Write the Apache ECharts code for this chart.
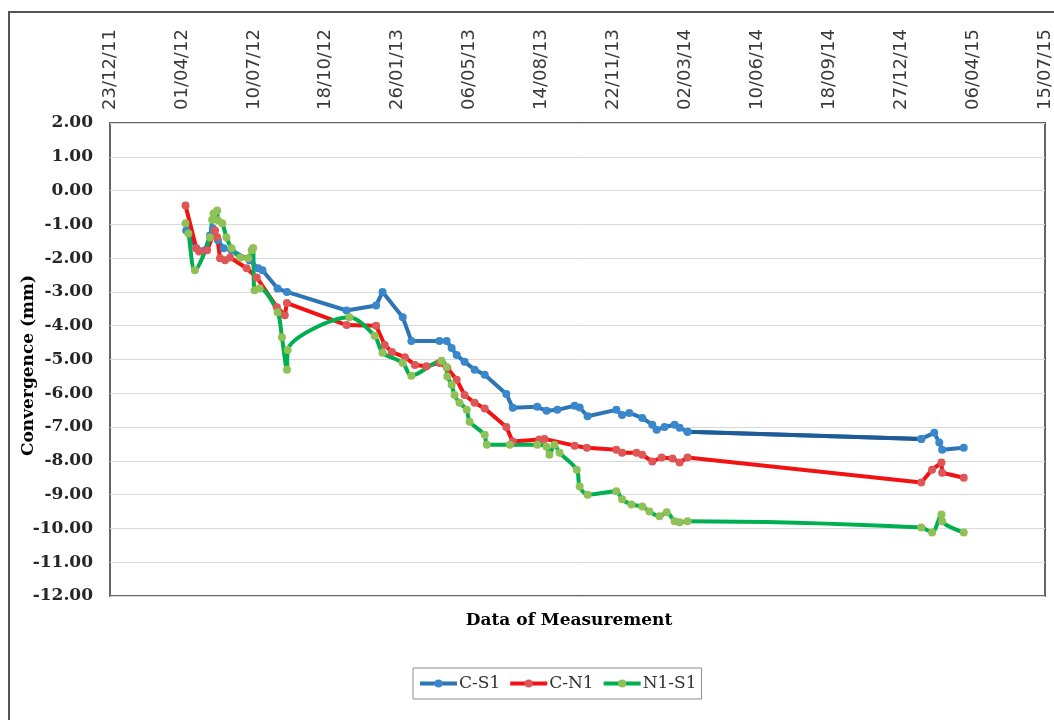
<!DOCTYPE html>
<html>
<head>
<meta charset="utf-8">
<script src="https://cdn.jsdelivr.net/npm/echarts@6/dist/echarts.min.js"></script>
<style>
  html, body { margin: 0; padding: 0; background: #fff; }
  #chart { width: 1054px; height: 720px; }
</style>
</head>
<body>
<div id="chart"></div>
<script>
// Tick labels along the top date axis, one every 100 days from 23/12/11
const tickLabels = ['23/12/11', '01/04/12', '10/07/12', '18/10/12', '26/01/13', '06/05/13', '14/08/13',
  '22/11/13', '02/03/14', '10/06/14', '18/09/14', '27/12/14', '06/04/15', '15/07/15'];

const seriesNames = ['C-S1', 'C-N1', 'N1-S1'];

// C-S1 convergence readings (mm)
const csDates = ['2012-04-07', '2012-04-21', '2012-05-03', '2012-05-10', '2012-05-14', '2012-05-21', '2012-05-29',
  '2012-06-09', '2012-07-04', '2012-07-16', '2012-07-22', '2012-08-12', '2012-08-25', '2012-11-16', '2012-12-27',
  '2013-01-05', '2013-02-02', '2013-02-14', '2013-03-25', '2013-04-04', '2013-04-11', '2013-04-18', '2013-04-29',
  '2013-05-13', '2013-05-27', '2013-06-26', '2013-07-05', '2013-08-08', '2013-08-21', '2013-09-05', '2013-09-29',
  '2013-10-06', '2013-10-17', '2013-11-26', '2013-12-04', '2013-12-14', '2014-01-01', '2014-01-15', '2014-01-21',
  '2014-02-01', '2014-02-15', '2014-02-22', '2014-03-05', '2015-01-24', '2015-02-11', '2015-02-18', '2015-02-22',
  '2015-03-24'];
const csValues = [-1.18, -1.71, -1.77, -1.33, -1.12, -1.47, -1.71,
  -1.77, -2.06, -2.30, -2.36, -2.90, -3.00, -3.55, -3.40,
  -3.00, -3.75, -4.45, -4.45, -4.45, -4.66, -4.87, -5.07,
  -5.30, -5.45, -6.02, -6.43, -6.40, -6.52, -6.49, -6.37,
  -6.42, -6.68, -6.49, -6.64, -6.58, -6.73, -6.93, -7.08,
  -7.00, -6.93, -7.02, -7.14, -7.35, -7.17, -7.46, -7.67,
  -7.61];

// C-N1 convergence readings (mm)
const cnDates = ['2012-04-06', '2012-04-21', '2012-04-25', '2012-05-06', '2012-05-17', '2012-05-20', '2012-05-24',
  '2012-05-31', '2012-06-07', '2012-06-30', '2012-07-14', '2012-08-11', '2012-08-22', '2012-08-25', '2012-11-16',
  '2012-12-27', '2013-01-08', '2013-01-18', '2013-02-05', '2013-02-19', '2013-03-07', '2013-03-25', '2013-04-05',
  '2013-04-18', '2013-04-29', '2013-05-13', '2013-05-27', '2013-06-26', '2013-07-05', '2013-08-11', '2013-08-18',
  '2013-09-29', '2013-10-16', '2013-11-26', '2013-12-04', '2013-12-24', '2014-01-01', '2014-01-15', '2014-01-28',
  '2014-02-12', '2014-02-22', '2014-03-05', '2015-01-24', '2015-02-08', '2015-02-21', '2015-02-22', '2015-03-24'];
const cnValues = [-0.44, -1.71, -1.80, -1.77, -1.18, -1.38, -2.00,
  -2.06, -1.98, -2.30, -2.57, -3.45, -3.69, -3.33, -3.98,
  -4.00, -4.57, -4.78, -4.93, -5.16, -5.20, -5.10, -5.25,
  -5.60, -6.05, -6.28, -6.45, -7.00, -7.43, -7.37, -7.35,
  -7.55, -7.61, -7.67, -7.76, -7.76, -7.82, -8.02, -7.90,
  -7.93, -8.05, -7.90, -8.64, -8.26, -8.05, -8.35, -8.50];

// N1-S1 convergence readings (mm)
const nsDates = ['2012-04-06', '2012-04-10', '2012-04-19', '2012-05-10', '2012-05-13', '2012-05-15', '2012-05-20',
  '2012-05-21', '2012-05-27', '2012-06-02', '2012-06-09', '2012-06-21', '2012-07-02', '2012-07-07', '2012-07-09',
  '2012-07-11', '2012-07-18', '2012-08-12', '2012-08-18', '2012-08-25', '2012-08-26', '2012-11-20', '2012-12-25',
  '2013-01-05', '2013-02-02', '2013-02-14', '2013-03-28', '2013-04-04', '2013-04-05', '2013-04-11', '2013-04-15',
  '2013-04-22', '2013-05-02', '2013-05-06', '2013-05-27', '2013-05-30', '2013-07-01', '2013-08-08', '2013-08-21',
  '2013-08-25', '2013-09-01', '2013-09-08', '2013-10-02', '2013-10-06', '2013-10-17', '2013-11-26', '2013-12-04',
  '2013-12-17', '2014-01-01', '2014-01-11', '2014-01-25', '2014-02-04', '2014-02-15', '2014-02-22', '2014-03-05',
  '2015-01-24', '2015-02-08', '2015-02-21', '2015-02-22', '2015-03-24'];
const nsValues = [-0.97, -1.27, -2.36, -1.39, -0.86, -0.68, -0.59,
  -0.88, -0.97, -1.39, -1.71, -1.98, -2.00, -1.77, -1.70,
  -2.95, -2.89, -3.60, -4.34, -5.30, -4.72, -3.75, -4.30,
  -4.80, -5.10, -5.48, -5.04, -5.22, -5.50, -5.75, -6.05,
  -6.28, -6.49, -6.84, -7.23, -7.52, -7.52, -7.52, -7.58,
  -7.82, -7.52, -7.76, -8.26, -8.76, -9.00, -8.90, -9.14,
  -9.29, -9.35, -9.50, -9.64, -9.52, -9.79, -9.82, -9.79,
  -9.97, -10.12, -9.59, -9.79, -10.12];

// x values are days counted from the first tick (23/12/11)
const DAY0 = Date.UTC(2011, 11, 23);
function dayOffset(s) {
  const p = s.split('-').map(Number);
  return Math.round((Date.UTC(p[0], p[1] - 1, p[2]) - DAY0) / 86400000);
}
function pairs(dates, values) {
  return dates.map((d, i) => [dayOffset(d), values[i]]);
}

const csData = pairs(csDates, csValues);
const cnData = pairs(cnDates, cnValues);
const nsData = pairs(nsDates, nsValues);
// the long interval without readings on C-S1 is drawn in a deeper blue
const gapIdx = csDates.indexOf('2014-03-05');
const csGap = csData.slice(gapIdx, gapIdx + 2);

const serifBold = { fontFamily: 'DejaVu Serif', fontWeight: 'bold', color: '#262626' };

const chart = echarts.init(document.getElementById('chart'));
chart.setOption({
  animation: false,
  backgroundColor: '#ffffff',
  grid: {
    left: 110, top: 123, width: 936, height: 473,
    show: true, borderColor: '#666666', borderWidth: 2, backgroundColor: 'transparent'
  },
  xAxis: {
    type: 'value', position: 'top',
    min: 0, max: 1300, interval: 100,
    axisLine: { show: false }, axisTick: { show: false },
    splitLine: { show: false },
    axisLabel: {
      rotate: 90, margin: 13, fontSize: 18, fontFamily: 'DejaVu Sans', color: '#3a3a3a',
      showMinLabel: true, showMaxLabel: true,
      formatter: v => tickLabels[Math.round(v / 100)] || ''
    }
  },
  yAxis: {
    type: 'value', min: -12, max: 2, interval: 1,
    axisLine: { show: false }, axisTick: { show: false },
    splitLine: { lineStyle: { color: '#d9d9d9', width: 1 } },
    axisLabel: Object.assign({ fontSize: 17, margin: 17, formatter: v => v.toFixed(2) }, serifBold)
  },
  legend: {
    data: seriesNames,
    left: 413, top: 668,
    borderColor: '#8c8c8c', borderWidth: 1,
    padding: [7, 5, 7, 5],
    itemGap: 8, itemWidth: 37, itemHeight: 10,
    lineStyle: { width: 4 },
    textStyle: { fontFamily: 'DejaVu Serif', fontSize: 17, color: '#333333', padding: [0, 0, 0, -3] }
  },
  graphic: [
    { type: 'rect', silent: true, z: -10,
      shape: { x: 9, y: 12, width: 1200, height: 900 },
      style: { fill: 'none', stroke: '#555555', lineWidth: 2 } },
    { type: 'text', rotation: Math.PI / 2, x: 20, y: 456,
      style: Object.assign({ text: 'Convergence (mm)', fontSize: 17 }, serifBold) },
    { type: 'text', x: 569, y: 621,
      style: Object.assign({ text: 'Data of Measurement', fontSize: 17, align: 'center', verticalAlign: 'middle' }, serifBold) }
  ],
  series: [
    { name: 'C-S1', type: 'line', data: csData,
      symbol: 'circle', symbolSize: 8,
      lineStyle: { color: '#2E75B6', width: 4 },
      itemStyle: { color: '#3A88CC' } },
    { name: 'C-N1', type: 'line', data: cnData,
      symbol: 'circle', symbolSize: 8,
      lineStyle: { color: '#F21212', width: 4 },
      itemStyle: { color: '#DE5656' } },
    { name: 'N1-S1', type: 'line', data: nsData, smooth: 0.3,
      symbol: 'circle', symbolSize: 8,
      lineStyle: { color: '#00B050', width: 4 },
      itemStyle: { color: '#8FC156' } },
    { name: 'C-S1 gap', type: 'line', data: csGap,
      symbol: 'circle', symbolSize: 8,
      lineStyle: { color: '#1F5B96', width: 4 },
      itemStyle: { color: '#3A88CC' } }
  ]
});
</script>
</body>
</html>
